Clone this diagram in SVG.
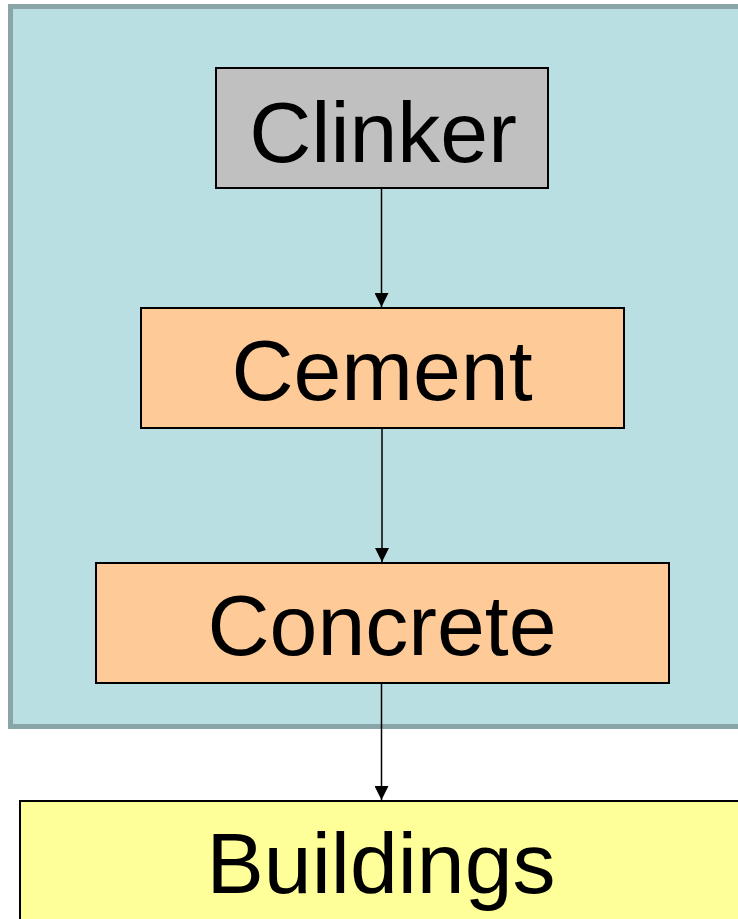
<svg xmlns="http://www.w3.org/2000/svg" width="738" height="919" viewBox="0 0 738 919">
  <defs>
    <marker id="arrow" viewBox="0 0 14 14" refX="14" refY="7" markerWidth="14" markerHeight="14" markerUnits="userSpaceOnUse" orient="auto">
      <path d="M0,0 L14,7 L0,14 Z" fill="#000"/>
    </marker>
    <style>
      .box { stroke: #000; stroke-width: 2; }
      .label { font-family: "Liberation Sans", Arial, sans-serif; font-size: 86px; fill: #000; text-anchor: middle; }
      .link { stroke: #000; stroke-width: 1.5; fill: none; marker-end: url(#arrow); }
    </style>
  </defs>
  <rect width="738" height="919" fill="#fff"/>
  <!-- production stage container -->
  <g id="container">
    <rect x="10.5" y="6.5" width="740" height="720" fill="#b9dfe2" stroke="#8aa5a8" stroke-width="5"/>
  </g>
  <g id="clinker">
    <rect class="box" x="216" y="68" width="332" height="120" fill="#c0c0c0"/>
    <text class="label" x="383" y="162">Clinker</text>
  </g>
  <g id="cement">
    <rect class="box" x="141" y="308" width="483" height="120" fill="#fdca98"/>
    <text class="label" x="382" y="400">Cement</text>
  </g>
  <g id="concrete">
    <rect class="box" x="96" y="563" width="573" height="120" fill="#fdca98"/>
    <text class="label" x="382" y="655">Concrete</text>
  </g>
  <g id="buildings">
    <rect class="box" x="20" y="801" width="740" height="140" fill="#ffff99"/>
    <text class="label" x="381" y="893">Buildings</text>
  </g>
  <g id="connectors">
    <line class="link" x1="381.5" y1="189" x2="381.5" y2="307"/>
    <line class="link" x1="382" y1="429" x2="382" y2="562"/>
    <line class="link" x1="381.5" y1="684" x2="381.5" y2="800"/>
  </g>
</svg>
